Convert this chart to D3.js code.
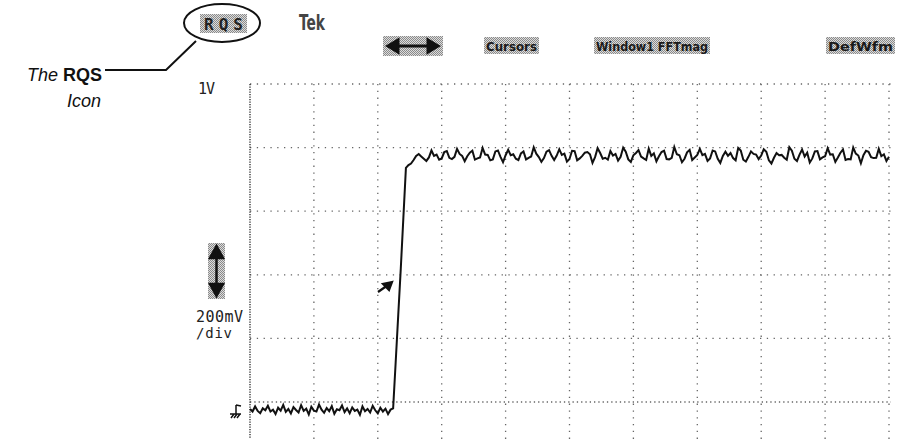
<!DOCTYPE html>
<html>
<head>
<meta charset="utf-8">
<script src="https://cdn.jsdelivr.net/npm/d3@7"></script>
<style>
  html, body { margin: 0; padding: 0; background: #fff; }
  svg { display: block; }
</style>
</head>
<body>
<svg id="chart"></svg>
<script>
// scope record: one sample every 0.04 div, values in mV (200 mV/div)
const sampleStep = 0.04;
const groundNoise = [
  -22,-30,-14,-28,-35,-20,-26,-12,-30,-24,
  -38,-18,-27,-9,-31,-22,-36,-16,-25,-33,
  -10,-28,-21,-39,-15,-27,-30,-8,-24,-34,
  -19,-29,-13,-37,-23,-26,-11,-32,-20,-35,
  -17,-28,-24,-40,-14,-29,-22,-33,-12,-26,
  -36,-18,-30,-21,-38,-24,-20
];
const edge = [126, 274, 421, 579, 736, 745, 750, 761, 774];
const plateau = [
  780,772,765,758,769, 791,774,778,762,766, 786,789,768,764,771, 796,780,774,757,773,
  784,790,762,766,769, 799,778,777,760,763, 788,791,771,754,776, 793,776,779,765,761,
  782,788,763,768,772, 801,781,770,755,767, 787,792,774,761,775, 795,777,781,756,764,
  790,789,760,766,774, 784,786,779,752,770, 798,783,765,768,762, 789,775,780,759,771,
  800,787,763,755,776, 783,792,772,766,761, 797,774,782,757,773, 786,790,764,763,768,
  802,779,776,754,765, 785,793,761,769,777, 796,776,780,758,766, 791,788,765,752,774,
  787,774,783,767,760, 799,791,762,756,771, 788,780,778,764,775, 795,787,760,750,768,
  783,776,777,768,762, 801,790,765,758,778, 794,772,784,753,766, 788,789,763,769,773,
  798,778,779,755,769, 784,794,761,764,763, 800,781,775,751,776, 790,787,770,767,768,
  796,773,779,758,771
];
const voltTicks = [0, 200, 400, 600, 800, 1000];
const timeTicks = [0, 1, 2, 3, 4, 5, 6, 7, 8, 9, 10];
const menuLabels = ["Cursors", "Window1 FFTmag", "DefWfm"];

const W = 897, H = 439;
const svg = d3.select("#chart").attr("width", W).attr("height", H);

const x = d3.scaleLinear().domain([0, 10]).range([250, 889]);
const y = d3.scaleLinear().domain([0, 1000]).range([402, 84]);

const trace = groundNoise.concat(edge, plateau).map((v, i) => ({ t: i * sampleStep, v: v }));

// stipple for the menu boxes
const defs = svg.append("defs");
const pat = defs.append("pattern")
  .attr("id", "stip").attr("width", 2).attr("height", 2)
  .attr("patternUnits", "userSpaceOnUse");
pat.append("rect").attr("width", 2).attr("height", 2).attr("fill", "#dcdcdc");
pat.append("rect").attr("width", 1).attr("height", 1).attr("fill", "#8a8a8a");
pat.append("rect").attr("x", 1).attr("y", 1).attr("width", 1).attr("height", 1).attr("fill", "#8a8a8a");

// graticule
const grid = svg.append("g").attr("class", "grid");
grid.selectAll("line.h")
  .data(voltTicks)
  .enter().append("line")
  .attr("class", "h")
  .attr("x1", x(0)).attr("x2", x(10) + 2)
  .attr("y1", d => y(d)).attr("y2", d => y(d))
  .attr("stroke", "#666").attr("stroke-width", 1.3)
  .attr("stroke-dasharray", d => d === 0 ? "1.3,3" : "1.3,5.5");

grid.selectAll("line.v")
  .data(timeTicks)
  .enter().append("line")
  .attr("class", "v")
  .attr("x1", d => x(d)).attr("x2", d => x(d))
  .attr("y1", y(1000)).attr("y2", H)
  .attr("stroke", d => d === 0 ? "#333" : "#666")
  .attr("stroke-width", d => d === 0 ? 1.4 : 1.3)
  .attr("stroke-dasharray", d => d === 0 ? "1.2,1.3" : "1.3,5.5");

// waveform
const line = d3.line().x(d => x(d.t)).y(d => y(d.v));
svg.append("path")
  .datum(trace)
  .attr("d", line)
  .attr("fill", "none")
  .attr("stroke", "#111")
  .attr("stroke-width", 2)
  .attr("stroke-linejoin", "miter");

// trigger level arrow
svg.append("path")
  .attr("d", "M378,292 L388,285 M392,282 L383,284 L389,290 Z")
  .attr("stroke", "#111").attr("stroke-width", 2.2).attr("fill", "#111");

// ground marker
svg.append("path")
  .attr("d", "M236,405 L236,414 M231,418 L234,414 M234,418 L237,414 M237,418 L240,414 M230,414 L241,414 M236,405 L241,406")
  .attr("stroke", "#111").attr("stroke-width", 1.5).attr("fill", "none");

// left labels
const mono = "'DejaVu Sans Mono', monospace";
svg.append("text").attr("x", 198).attr("y", 94).text("1V")
  .attr("font-family", mono).attr("font-size", 15).attr("fill", "#222")
  .attr("textLength", 17);
svg.append("text").attr("x", 196).attr("y", 322).text("200mV")
  .attr("font-family", mono).attr("font-size", 15).attr("fill", "#222")
  .attr("textLength", 47);
svg.append("text").attr("x", 196).attr("y", 338).text("/div")
  .attr("font-family", mono).attr("font-size", 14).attr("fill", "#222")
  .attr("textLength", 36);

// vertical scale icon
svg.append("rect").attr("x", 208).attr("y", 243).attr("width", 17).attr("height", 56)
  .attr("fill", "url(#stip)");
svg.append("path")
  .attr("d", "M216.5,250 L216.5,292 M210,258 L216.5,246 L223,258 Z M210,284 L216.5,296 L223,284 Z")
  .attr("stroke", "#111").attr("stroke-width", 2.5).attr("fill", "#111");

// header
svg.append("text").attr("x", 299).attr("y", 30).text("Tek")
  .attr("font-family", "'DejaVu Sans', sans-serif").attr("font-size", 21).attr("font-weight", "bold")
  .attr("fill", "#444").attr("textLength", 26).attr("lengthAdjust", "spacingAndGlyphs");

svg.append("rect").attr("x", 383).attr("y", 36).attr("width", 60).attr("height", 20)
  .attr("fill", "url(#stip)");
svg.append("path")
  .attr("d", "M396,46 L430,46 M398,40 L388,46 L398,52 Z M428,40 L438,46 L428,52 Z")
  .attr("stroke", "#111").attr("stroke-width", 3).attr("fill", "#111");

const menuBoxes = [
  { x0: 484, x1: 539 },
  { x0: 594, x1: 710 },
  { x0: 826, x1: 895 }
];
const menu = svg.append("g");
menuLabels.forEach((lab, i) => {
  const b = menuBoxes[i];
  menu.append("rect").attr("x", b.x0).attr("y", 37).attr("width", b.x1 - b.x0).attr("height", 17)
    .attr("fill", "url(#stip)");
  menu.append("text").attr("x", b.x0 + 2).attr("y", 51).text(lab)
    .attr("font-family", "'DejaVu Sans Condensed', sans-serif").attr("font-weight", "bold")
    .attr("font-size", 13).attr("fill", "#1a1a1a")
    .attr("textLength", b.x1 - b.x0 - 4).attr("lengthAdjust", "spacingAndGlyphs");
});

// RQS callout
svg.append("rect").attr("x", 200).attr("y", 14).attr("width", 47).attr("height", 19)
  .attr("fill", "url(#stip)");
svg.append("text").attr("x", 204).attr("y", 30).text("RQS")
  .attr("font-family", mono).attr("font-size", 16).attr("font-weight", "bold").attr("fill", "#222")
  .attr("textLength", 39);
svg.append("ellipse").attr("cx", 222).attr("cy", 23).attr("rx", 38).attr("ry", 19)
  .attr("fill", "none").attr("stroke", "#111").attr("stroke-width", 2);
svg.append("path").attr("d", "M105,70 L166,70 L196,41")
  .attr("fill", "none").attr("stroke", "#111").attr("stroke-width", 2);

const callout = svg.append("text").attr("text-anchor", "end")
  .attr("font-family", "'Liberation Sans', Arial, sans-serif").attr("font-size", 18).attr("fill", "#111");
callout.append("tspan").attr("x", 102).attr("y", 81).attr("font-style", "italic").text("The ");
callout.append("tspan").attr("font-weight", "bold").text("RQS");
svg.append("text").attr("x", 101).attr("y", 107).attr("text-anchor", "end")
  .attr("font-family", "'Liberation Sans', Arial, sans-serif").attr("font-size", 18)
  .attr("font-style", "italic").attr("fill", "#111").text("Icon");
</script>
</body>
</html>
